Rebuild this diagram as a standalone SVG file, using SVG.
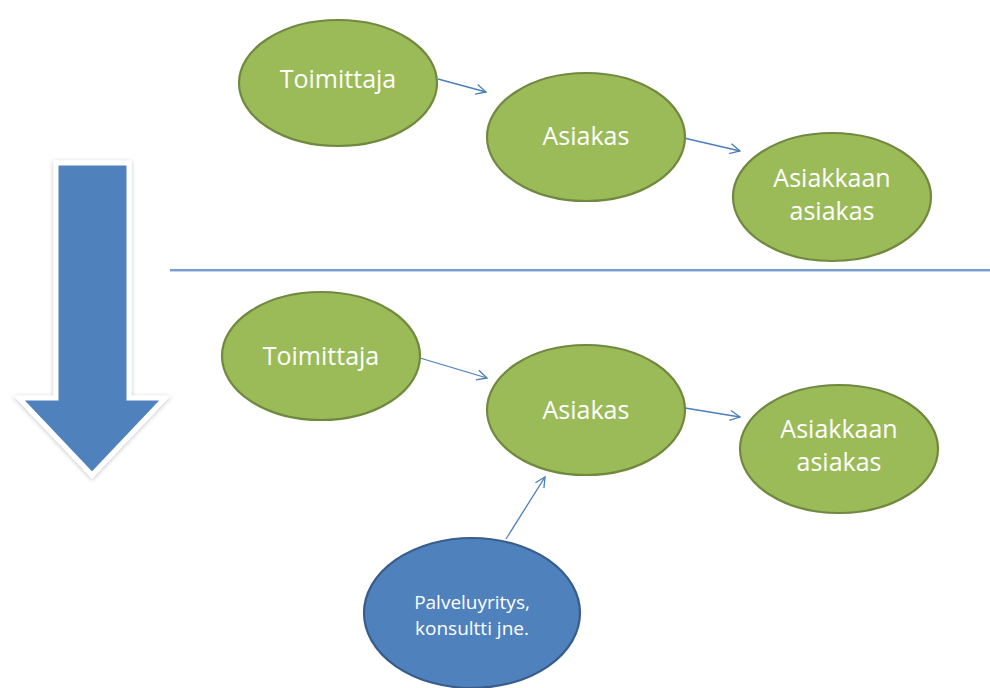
<svg xmlns="http://www.w3.org/2000/svg" width="990" height="688" viewBox="0 0 990 688">
  <defs>
    <style>
      .green { fill: #9BBB59; stroke: #71893F; stroke-width: 2.2; }
      .blue { fill: #4F81BD; stroke: #385D8A; stroke-width: 2.2; }
      .lbl { font-family: "Open Sans", Lato, "Liberation Sans", sans-serif; fill: #FFFFFF; text-anchor: middle; font-size: 25px; }
      .lbl-s { font-size: 19px; }
      .conn { stroke: #4A7EBB; stroke-width: 1.3; fill: none; marker-end: url(#open); }
    </style>
    <marker id="open" viewBox="0 0 12 12" refX="11" refY="6" markerWidth="12" markerHeight="12" markerUnits="userSpaceOnUse" orient="auto">
      <path d="M1,1 L11,6 L1,11" fill="none" stroke="#4A7EBB" stroke-width="1.3"/>
    </marker>
    <filter id="soft" x="-20%" y="-10%" width="140%" height="120%">
      <feGaussianBlur in="SourceAlpha" stdDeviation="2"/>
      <feOffset dx="0" dy="1" result="b"/>
      <feFlood flood-color="#000000" flood-opacity="0.25"/>
      <feComposite in2="b" operator="in"/>
      <feMerge><feMergeNode/><feMergeNode in="SourceGraphic"/></feMerge>
    </filter>
  </defs>

  <!-- big downward arrow on the left -->
  <g id="down-arrow" filter="url(#soft)">
    <path d="M56,163 L129,163 L129,398 L165,398 L92,475 L19,398 L56,398 Z" fill="#4F81BD" stroke="#FFFFFF" stroke-width="5" stroke-linejoin="miter"/>
  </g>

  <!-- divider between the two scenarios -->
  <g id="divider">
    <line x1="170" y1="270" x2="990" y2="270" stroke="#4A7EBB" stroke-width="1.3"/>
    <line x1="170" y1="271.5" x2="990" y2="271.5" stroke="#C6D5EA" stroke-width="1"/>
  </g>

  <g id="connectors">
    <line class="conn" x1="438" y1="79" x2="486" y2="92"/>
    <line class="conn" x1="684" y1="138" x2="740" y2="151"/>
    <line class="conn" x1="420" y1="358" x2="487" y2="378"/>
    <line class="conn" x1="685" y1="408" x2="740" y2="417"/>
    <line class="conn" x1="506" y1="539" x2="545" y2="477"/>
  </g>

  <!-- upper chain -->
  <g id="toimittaja-1">
    <ellipse class="green" cx="338" cy="83" rx="99" ry="63"/>
    <text class="lbl" x="338" y="88">Toimittaja</text>
  </g>
  <g id="asiakas-1">
    <ellipse class="green" cx="586" cy="137" rx="99" ry="64"/>
    <text class="lbl" x="586" y="145">Asiakas</text>
  </g>
  <g id="asiakkaan-asiakas-1">
    <ellipse class="green" cx="832" cy="197" rx="99" ry="64"/>
    <text class="lbl" x="832" y="187">Asiakkaan</text>
    <text class="lbl" x="832" y="220">asiakas</text>
  </g>

  <!-- lower chain -->
  <g id="toimittaja-2">
    <ellipse class="green" cx="321" cy="356" rx="99" ry="64"/>
    <text class="lbl" x="321" y="365">Toimittaja</text>
  </g>
  <g id="asiakas-2">
    <ellipse class="green" cx="586" cy="410" rx="99" ry="65"/>
    <text class="lbl" x="586" y="419">Asiakas</text>
  </g>
  <g id="asiakkaan-asiakas-2">
    <ellipse class="green" cx="839" cy="449" rx="99" ry="64"/>
    <text class="lbl" x="839" y="438">Asiakkaan</text>
    <text class="lbl" x="839" y="471">asiakas</text>
  </g>
  <g id="palveluyritys">
    <ellipse class="blue" cx="472" cy="613" rx="108" ry="75"/>
    <text class="lbl lbl-s" x="472" y="609">Palveluyritys,</text>
    <text class="lbl lbl-s" x="472" y="635">konsultti jne.</text>
  </g>
</svg>
